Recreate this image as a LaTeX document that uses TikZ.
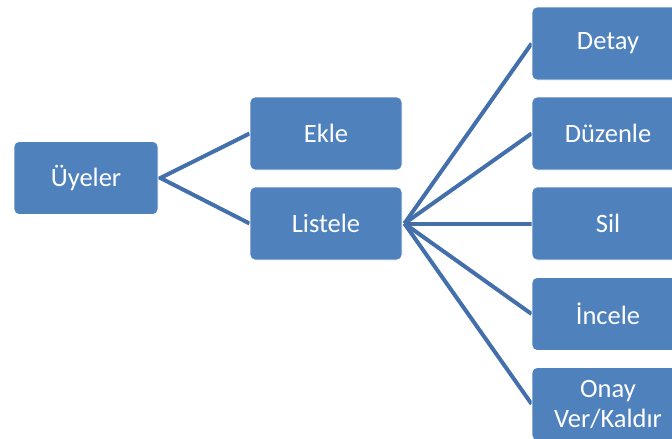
\documentclass[tikz,border=0pt]{standalone}
\usepackage{fontspec}
\setmainfont{Carlito}
\usetikzlibrary{backgrounds}
\definecolor{boxblue}{HTML}{4F81BD}
\definecolor{linkblue}{HTML}{4370AA}
\begin{document}
\begin{tikzpicture}[x=1pt,y=-1pt,
  menubox/.style={rectangle, rounded corners=5pt, fill=boxblue, draw=white, line width=0.8pt,
    minimum width=152pt, minimum height=73pt, text=white, font=\fontsize{26.5}{30}\selectfont,
    align=center, inner sep=0pt},
  link/.style={draw=linkblue, line width=4pt}]
\useasboundingbox (0,0) rectangle (672,439);
\clip (0,0) rectangle (672,439);
% top level
\node[menubox, minimum width=144pt] (uyeler) at (86,178) {Üyeler};
% second level
\node[menubox] (ekle) at (326,133.5) {Ekle};
\node[menubox] (listele) at (326,223.5) {Listele};
% third level
\node[menubox] (detay) at (608,43.5) {Detay};
\node[menubox] (duzenle) at (608,133.5) {Düzenle};
\node[menubox] (sil) at (608,223.5) {Sil};
\node[menubox] (incele) at (608,314) {İncele};
\node[menubox] (onay) at (608,404) {Onay\\Ver/Kaldır};
% connectors fan out from just right of each parent, behind the boxes
\begin{scope}[on background layer]
  \coordinate (uj) at ([xshift=2pt]uyeler.east);
  \coordinate (lj) at ([xshift=2pt]listele.east);
  \draw[link] (ekle.west) -- (uj) -- (listele.west);
  \foreach \t in {detay,duzenle,sil,incele,onay}
    \draw[link] (lj) -- (\t.west);
\end{scope}
\end{tikzpicture}
\end{document}
